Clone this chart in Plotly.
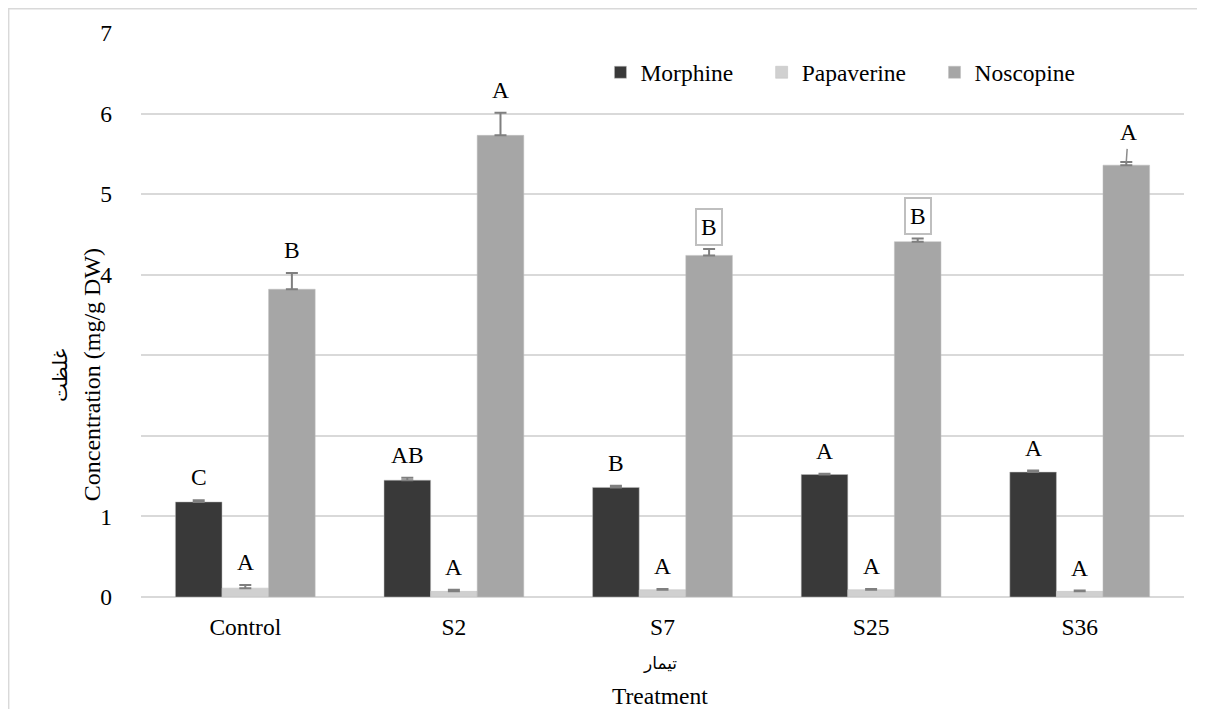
import plotly.graph_objects as go

categories = ["Control", "S2", "S7", "S25", "S36"]
series_names = ["Morphine", "Papaverine", "Noscopine"]
morphine = [1.18, 1.45, 1.36, 1.52, 1.55]
morphine_err = [0.02, 0.03, 0.02, 0.01, 0.02]
papaverine = [0.11, 0.07, 0.09, 0.09, 0.07]
papaverine_err = [0.04, 0.02, 0.01, 0.01, 0.01]
noscopine = [3.82, 5.73, 4.24, 4.41, 5.36]
noscopine_err = [0.20, 0.28, 0.08, 0.04, 0.04]
morphine_letters = ["C", "AB", "B", "A", "A"]
papaverine_letters = ["A", "A", "A", "A", "A"]
noscopine_letters = ["B", "A", "B", "B", "A"]
boxed_noscopine = [False, False, True, True, False]
y_ticks = [0, 1, 2, 3, 4, 5, 6, 7]
y_ticktext = ["0", "1", "", "", "4", "5", "6", "7"]

colors = ["#393939", "#d0d0d0", "#a6a6a6"]
FONT = "Times New Roman, Liberation Serif, Tinos, DejaVu Serif, serif"
FA = "DejaVu Sans"
FS = 23.5
BARGAP = 0.33
PAD = "\u00a0" * 4

values = [morphine, papaverine, noscopine]
errors = [morphine_err, papaverine_err, noscopine_err]
letters = [morphine_letters, papaverine_letters, noscopine_letters]

fig = go.Figure()
for j, name in enumerate(series_names):
    fig.add_trace(go.Bar(
        name=name + (PAD if j < 2 else ""), x=categories, y=values[j],
        marker=dict(color=colors[j], line=dict(color="#bfbfbf", width=0.5)),
        error_y=dict(type="data", symmetric=False, array=errors[j],
                     arrayminus=[0] * len(errors[j]), visible=True,
                     color="#7f7f7f", thickness=2, width=6),
    ))

annotations = []
bw = (1 - BARGAP) / 3
for j in range(3):
    for i, c in enumerate(categories):
        top = values[j][i] + errors[j][i]
        boxed = (j == 2 and boxed_noscopine[i])
        leader = (j == 2 and i == len(categories) - 1)
        ann = dict(
            x=i + (j - 1) * bw, y=top, xref="x", yref="y",
            text=letters[j][i],
            font=dict(family=FONT, size=FS, color="#000"),
            bordercolor="#bfbfbf" if boxed else "rgba(0,0,0,0)",
            borderwidth=2 if boxed else 0,
            borderpad=4 if boxed else 0,
            bgcolor="white" if boxed else "rgba(0,0,0,0)",
        )
        if leader:
            ann.update(showarrow=True, arrowhead=0, arrowcolor="#8c8c8c", arrowwidth=1.5,
                       ax=2, ay=-30, standoff=0, startstandoff=4)
        else:
            ann.update(showarrow=False, xanchor="center", yanchor="bottom",
                       yshift=3 if boxed else 10)
        annotations.append(ann)

annotations += [
    dict(x=-0.047, y=0.395, xref="paper", yref="paper", text="Concentration (mg/g DW)",
         textangle=-90, showarrow=False, xanchor="center", yanchor="middle",
         font=dict(family=FONT, size=24, color="#000")),
    dict(x=-0.0777, y=0.3936, xref="paper", yref="paper", text="غلظت",
         textangle=-90, showarrow=False, xanchor="center", yanchor="middle",
         font=dict(family=FA, size=20, color="#000")),
    dict(x=0.498, y=-0.117, xref="paper", yref="paper", text="تیمار",
         showarrow=False, xanchor="center", yanchor="middle",
         font=dict(family=FA, size=17, color="#000")),
    dict(x=0.498, y=-0.1755, xref="paper", yref="paper", text="Treatment",
         showarrow=False, xanchor="center", yanchor="middle",
         font=dict(family=FONT, size=FS, color="#000")),
]

shapes = [
    dict(type="line", xref="paper", yref="paper", x0=-0.1276, x1=1.03, y0=1.0443, y1=1.0443,
         line=dict(color="#d9d9d9", width=3)),
    dict(type="line", xref="paper", yref="paper", x0=-0.1276, x1=-0.1276, y0=-0.21, y1=1.0443,
         line=dict(color="#d9d9d9", width=3)),
]

fig.update_layout(
    width=1197, height=701,
    margin=dict(l=133, r=21, t=25, b=112),
    paper_bgcolor="white", plot_bgcolor="white",
    barmode="group", bargap=BARGAP, bargroupgap=0,
    font=dict(family=FONT, size=FS, color="#000"),
    showlegend=True,
    legend=dict(orientation="h", x=0.4405, y=0.93, xanchor="left", yanchor="middle",
                font=dict(family=FONT, size=FS, color="#000"), bgcolor="rgba(0,0,0,0)",
                itemwidth=30, traceorder="normal"),
    annotations=annotations, shapes=shapes,
)
fig.update_xaxes(showgrid=False, showline=False, ticks="", zeroline=False,
                 tickfont=dict(family=FONT, size=FS), ticklabelstandoff=13)
fig.update_yaxes(range=[0, 7], tickvals=y_ticks, ticktext=y_ticktext,
                 showgrid=True, gridcolor="#d9d9d9", gridwidth=2,
                 zeroline=True, zerolinecolor="#d9d9d9", zerolinewidth=2,
                 showline=False, ticks="", tickfont=dict(family=FONT, size=FS),
                 ticklabelstandoff=28)

fig.write_html("out.html")
